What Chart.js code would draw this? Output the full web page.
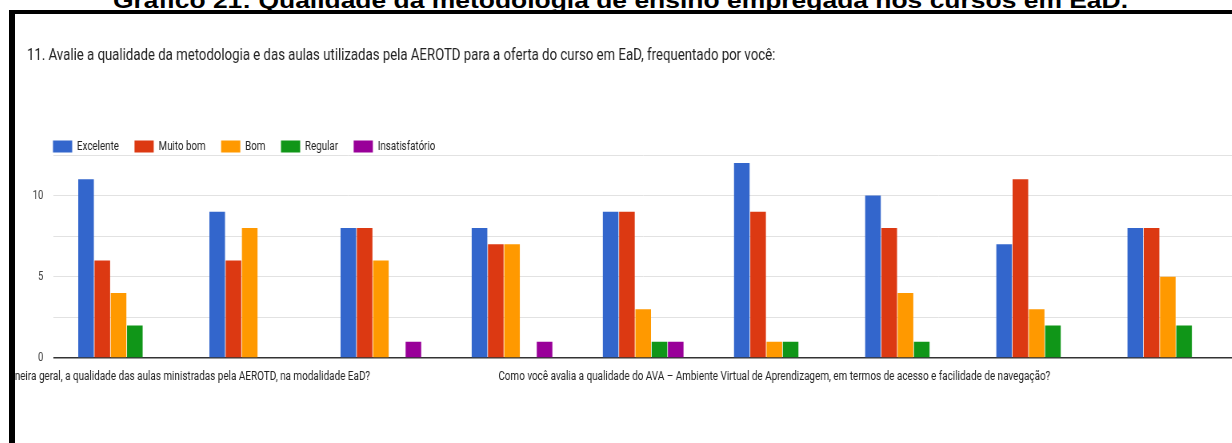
<!DOCTYPE html>
<html>
<head>
<meta charset="utf-8">
<script src="https://cdn.jsdelivr.net/npm/chart.js@4/dist/chart.umd.min.js"></script>
<style>
  html, body { margin: 0; padding: 0; background: #fff; width: 1232px; height: 443px; overflow: hidden; }
  #topTitle { position: absolute; left: 0; top: -12px; width: 1232px; height: 22px; line-height: 22px;
    font: bold 22px "Liberation Sans", Arial, sans-serif; color: #000; white-space: nowrap; }
  #topTitle span { display: inline-block; transform-origin: 0 0; }
  #frameLeft { position: absolute; left: 9px; top: 10px; width: 6px; height: 433px; background: #000; }
  #frameTop { position: absolute; left: 9px; top: 10px; width: 1223px; height: 4px; background: #000; }
  #wrap { position: absolute; left: 15px; top: 14px; width: 1523px; height: 429px; transform: scaleX(0.8); transform-origin: 0 0; }
</style>
</head>
<body>
<div id="topTitle"><span id="tt">Gráfico 21: Qualidade da metodologia de ensino empregada nos cursos em EaD.</span></div>
<div id="wrap"><canvas id="c"></canvas></div>
<div id="frameTop"></div>
<div id="frameLeft"></div>
<script>
// ---- data ----
const chartTitle = "11. Avalie a qualidade da metodologia e das aulas utilizadas pela AEROTD para a oferta do curso em EaD, frequentado por você:";
const categories = [
  "Como você classifica, de uma maneira geral, a qualidade das aulas ministradas pela AEROTD, na modalidade EaD?",
  "Pergunta 2",
  "Pergunta 3",
  "Pergunta 4",
  "Pergunta 5",
  "Como você avalia a qualidade do AVA – Ambiente Virtual de Aprendizagem, em termos de acesso e facilidade de navegação?",
  "Pergunta 7",
  "Pergunta 8",
  "Pergunta 9"
];
const shownLabelIndexes = [0, 5];
const seriesNames = ["Excelente", "Muito bom", "Bom", "Regular", "Insatisfatório"];
const excelente      = [11, 9, 8, 8, 9, 12, 10, 7, 8];
const muitoBom       = [6, 6, 8, 7, 9, 9, 8, 11, 8];
const bom            = [4, 8, 6, 7, 3, 1, 4, 3, 5];
const regular        = [2, 0, 0, 0, 1, 1, 1, 2, 2];
const insatisfatorio = [0, 0, 1, 1, 1, 0, 0, 0, 0];
const yTickLabels = [0, 5, 10];
const colors = ["#3366cc", "#dc3912", "#ff9900", "#109618", "#990099"];

// top title width fit
(function(){
  const s = document.getElementById('tt');
  const w = s.getBoundingClientRect().width;
  const target = 1015;
  s.style.transform = 'scaleX(' + (target / w) + ')';
  s.style.marginLeft = ((1232 - target) / 2 + 4) + 'px';
})();

const seriesData = [excelente, muitoBom, bom, regular, insatisfatorio];

const legendPos = {
  id: 'legendPos',
  afterLayout(chart) {
    const lg = chart.legend;
    if (!lg) return;
    const pad = lg.options.labels.padding;
    const ih = 12.2;
    const dx = (chart.chartArea.left - pad) - lg.left;
    lg.left += dx; lg.right += dx;
    const newTop = chart.chartArea.top - 8.5 - ih / 2 - pad;
    const dy = newTop - lg.top;
    lg.top += dy; lg.bottom += dy;
  }
};

const xLabels = {
  id: 'xLabels',
  afterDraw(chart) {
    const ctx = chart.ctx;
    const xs = chart.scales.x;
    ctx.save();
    ctx.font = '12.4px Roboto, sans-serif';
    ctx.fillStyle = '#222';
    ctx.textAlign = 'center';
    ctx.textBaseline = 'middle';
    shownLabelIndexes.forEach(i => {
      ctx.fillText(categories[i], xs.getPixelForValue(i), chart.chartArea.bottom + 19);
    });
    ctx.restore();
  }
};

new Chart(document.getElementById('c'), {
  type: 'bar',
  data: {
    labels: categories,
    datasets: seriesNames.map((n, k) => ({
      label: n,
      data: seriesData[k],
      backgroundColor: colors[k],
      borderWidth: 0,
      categoryPercentage: 0.62,
      barPercentage: 0.96
    }))
  },
  options: {
    responsive: true,
    maintainAspectRatio: false,
    devicePixelRatio: 1,
    animation: false,
    layout: { padding: { left: 15, right: 0, top: 0, bottom: 85 } },
    plugins: {
      title: {
        display: true,
        text: chartTitle,
        align: 'start',
        color: '#212121',
        font: { family: 'Roboto', size: 16.5, weight: 'normal', lineHeight: 1.2 },
        padding: { top: 32, bottom: 47.5 }
      },
      legend: {
        display: true,
        position: 'top',
        align: 'start',
        labels: {
          boxWidth: 24,
          boxHeight: 12,
          padding: 19.5,
          color: '#222',
          font: { family: 'Roboto', size: 12.2 }
        }
      },
      tooltip: { enabled: false }
    },
    scales: {
      x: {
        grid: { display: false, drawTicks: false },
        border: { display: false },
        ticks: { display: false }
      },
      y: {
        min: 0,
        max: 12.5,
        afterFit(scale) { scale.width = 32.5; },
        afterBuildTicks(scale) {
          scale.ticks = [0, 2.5, 5, 7.5, 10, 12.5].map(v => ({ value: v }));
        },
        border: { display: false },
        grid: {
          drawTicks: false,
          tickLength: 0,
          color: c => (c.tick && c.tick.value === 0) ? '#333' : '#e2e2e2',
          lineWidth: c => (c.tick && c.tick.value === 0) ? 1.6 : 1
        },
        ticks: {
          padding: 12,
          color: '#444',
          font: { family: 'Roboto', size: 12 },
          callback: v => yTickLabels.includes(v) ? String(v) : ''
        }
      }
    }
  },
  plugins: [legendPos, xLabels]
});
</script>
</body>
</html>
